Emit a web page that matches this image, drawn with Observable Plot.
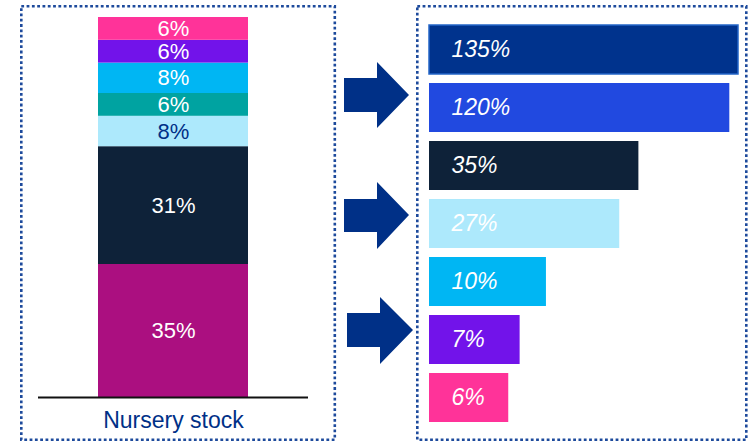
<!DOCTYPE html>
<html><head><meta charset="utf-8">
<script src="https://cdn.jsdelivr.net/npm/d3@7"></script>
<script src="https://cdn.jsdelivr.net/npm/@observablehq/plot@0.6"></script>
<style>
body{margin:0;background:#fff;font-family:"Liberation Sans",Arial,sans-serif;}
#wrap{position:relative;width:752px;height:442px;overflow:hidden;background:#fff;}
.abs{position:absolute;}
.abs svg{display:block;}
</style></head><body>
<div id="wrap">
  <div class="abs" id="left" style="left:20px;top:5px;"></div>
  <div class="abs" id="right" style="left:416px;top:5px;"></div>
  <svg class="abs" style="left:0;top:0;pointer-events:none;" width="752" height="442">
    <g fill="none" stroke="#1d4a9c" stroke-width="2.6" stroke-dasharray="2.8 2.5">
      <rect x="21.3" y="6.3" width="313.5" height="433.5"/>
      <rect x="417.3" y="6.3" width="329" height="433.5"/>
    </g>
    <g fill="#003087">
      <polygon points="344,78 377,78 377,62 409,95 377,128 377,112 344,112"/>
      <polygon points="344,199 377,199 377,182 409,215 377,249 377,232 344,232"/>
      <polygon points="347,313 380,313 380,297 413,330 380,364 380,347 347,347"/>
    </g>
  </svg>
</div>
<script>
// Left: stacked bar
const stackCategory = ["Nursery stock"];
const stackKeys = ["s1", "s2", "s3", "s4", "s5", "s6", "s7"];
const stackValues = [35, 31, 8, 6, 8, 6, 6];
const stackColors = ["#AB0F80", "#0E2239", "#ADE9FC", "#00A3A1", "#00B6F3", "#7213EA", "#FF3399"];
const stackLabelColors = ["#ffffff", "#ffffff", "#003087", "#ffffff", "#ffffff", "#ffffff", "#ffffff"];

// Right: horizontal bars
const barKeys = ["b1", "b2", "b3", "b4", "b5", "b6", "b7"];
const barValues = [135, 120, 35, 27, 10, 7, 6];
const barColors = ["#00338D", "#2149E0", "#0E2239", "#ADE9FC", "#00B6F3", "#7213EA", "#FF3399"];
const barStrokes = ["#2366c8", "none", "none", "none", "none", "none", "none"];
const logMin = 2.05;

const font = '"Liberation Sans", Arial, sans-serif';

const stackData = stackKeys.map((k, i) => ({
  cat: stackCategory[0], key: k, value: stackValues[i],
  color: stackColors[i], labelColor: stackLabelColors[i]
}));

const left = Plot.plot({
  width: 316, height: 436,
  marginTop: 12, marginBottom: 44, marginLeft: 18, marginRight: 28,
  style: {fontFamily: font, background: "transparent", overflow: "visible"},
  x: {domain: stackCategory, padding: 0.285, label: null},
  y: {domain: [0, 100], axis: null},
  color: {type: "identity"},
  marks: [
    Plot.barY(stackData, Plot.stackY({x: "cat", y: "value", fill: "color"})),
    Plot.text(stackData, Plot.stackY({x: "cat", y: "value", text: d => d.value + "%", fill: "labelColor", fontSize: 22})),
    Plot.ruleY([0], {stroke: "#111", strokeWidth: 2}),
    Plot.axisX({tickSize: 0, tickPadding: 14, fontSize: 23, color: "#003087", label: null})
  ]
});
document.getElementById("left").appendChild(left);

const barData = barKeys.map((k, i) => ({
  key: k, value: barValues[i], color: barColors[i], stroke: barStrokes[i]
}));

const right = Plot.plot({
  width: 332, height: 436,
  marginTop: 13.5, marginBottom: 11.5, marginLeft: 13, marginRight: 10,
  style: {fontFamily: font, background: "transparent", overflow: "visible"},
  x: {type: "log", domain: [logMin, d3.max(barValues)], axis: null},
  y: {domain: barKeys, paddingInner: 0.15, paddingOuter: 0.075, axis: null},
  color: {type: "identity"},
  marks: [
    Plot.barX(barData, {x1: logMin, x2: "value", y: "key", fill: "color", stroke: "stroke", strokeWidth: 1.5}),
    Plot.text(barData, {x: logMin, y: "key", text: d => d.value + "%", dx: 22, textAnchor: "start",
      fill: "white", fontSize: 23, fontStyle: "italic"})
  ]
});
document.getElementById("right").appendChild(right);
</script>
</body></html>
